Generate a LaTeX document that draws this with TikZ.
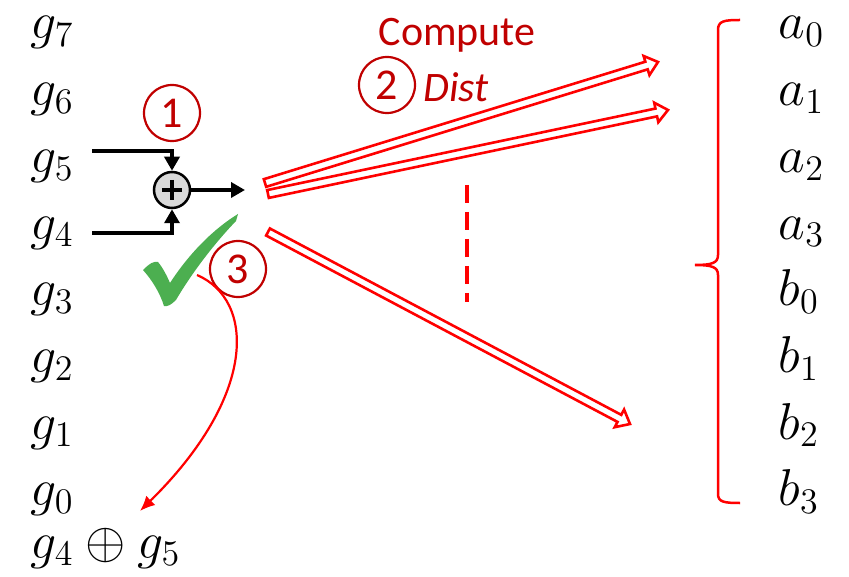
\documentclass[tikz,border=0pt]{standalone}
\usepackage{fontspec}
\newfontfamily\calib{Carlito}
\usetikzlibrary{calc,arrows.meta}
\definecolor{dred}{RGB}{192,0,0}
\definecolor{chk}{RGB}{76,175,80}
\newcommand\hollowarr[2]{%
  \coordinate (hc) at ($(#2)!12pt!(#1)$);
  \draw[red, line width=2.6, line join=miter]
    ($(#1)!4pt!90:(#2)$) -- ($(hc)!4pt!-90:(#1)$) -- ($(hc)!10pt!-90:(#1)$) -- (#2)
    -- ($(hc)!10pt!90:(#1)$) -- ($(hc)!4pt!90:(#1)$) -- ($(#1)!4pt!-90:(#2)$) -- cycle;}
\begin{document}
\begin{tikzpicture}[x=1pt,y=-1pt,
  lbl/.style={anchor=base west, inner sep=0, font=\LARGE, scale=3},
  numc/.style={circle, draw=dred, line width=2.2, minimum size=56, inner sep=0, text=dred,
    font=\calib\fontsize{44}{46}\selectfont},
  rtxt/.style={text=dred, inner sep=0, font=\calib\fontsize{42}{46}\selectfont},
  blk/.style={line width=4, -{Triangle[length=14,width=15]}}]
\useasboundingbox (0,0) rectangle (849,577);
% labels
\foreach \i in {0,...,7}
  \node[lbl] (g\i) at (30, {39+66.7*(7-\i)}) {$g_{\i}$};
\foreach \i in {0,...,3}
  \node[lbl] (a\i) at (778, {39+66.7*\i}) {$a_{\i}$};
\foreach \i in {0,...,3}
  \node[lbl] (b\i) at (778, {39+66.7*(\i+4)}) {$b_{\i}$};
\node[lbl] (res) at (30,558) {$g_4\oplus g_5$};
% adder
\node[circle, draw, fill=gray!30, line width=2.5, minimum size=36, inner sep=0] (sum) at (172,190) {};
\draw[line width=3.5] ($(sum)+(-10,0)$) -- ($(sum)+(10,0)$) ($(sum)+(0,-10)$) -- ($(sum)+(0,10)$);
\coordinate (in5) at (92,151);
\coordinate (in4) at (92,233);
\coordinate (out) at (245,190);
\draw[blk] (in5) -| (sum.north);
\draw[blk] (in4) -| (sum.south);
\draw[blk] (sum.east) -- (out);
% circled numbers and texts
\node[numc] (n1) at (172,113) {1};
\node[numc] (n2) at (387,85) {2};
\node[numc] (n3) at (238,269) {3};
\node[rtxt] (comp) at (457,35) {Compute};
\node[rtxt, anchor=west] (dist) at (423,87) {\itshape Dist};
% hollow arrows
\coordinate (t1) at (265,183); \coordinate (h1) at (658,62);
\coordinate (t2) at (268,194); \coordinate (h2) at (668,110);
\coordinate (t3) at (268,232); \coordinate (h3) at (630,424);
\hollowarr{t1}{h1}
\hollowarr{t2}{h2}
\hollowarr{t3}{h3}
% dashed line
\coordinate (d1) at (467,185); \coordinate (d2) at (467,302);
\draw[red, line width=4, dash pattern=on 18 off 9] (d1) -- (d2);
% brace
\draw[red, line width=2.5] (740,20) .. controls (724,20) and (718,21) .. (718,30) -- (718,255)
  .. controls (718,263) and (712,265) .. (695,265)
  .. controls (712,265) and (718,267) .. (718,275) -- (718,494)
  .. controls (718,502) and (724,503) .. (740,503);
% check mark
\fill[chk] (143,270) .. controls (150,263) and (154,261) .. (158,262)
  .. controls (163,268) and (167,276) .. (170,283)
  .. controls (190,252) and (215,228) .. (238,214) -- (236,221)
  .. controls (212,246) and (190,276) .. (176,300)
  .. controls (171,305) and (167,307) .. (164,306)
  .. controls (160,293) and (152,280) .. (143,270) -- cycle;
% curved arrow
\coordinate (c3s) at (197,275);
\coordinate (c3e) at (140,511);
\draw[red, line width=2.2, -{Latex[length=15,width=13]}] (c3s) .. controls (255,300) and (258,395) .. (c3e);
\end{tikzpicture}
\end{document}
